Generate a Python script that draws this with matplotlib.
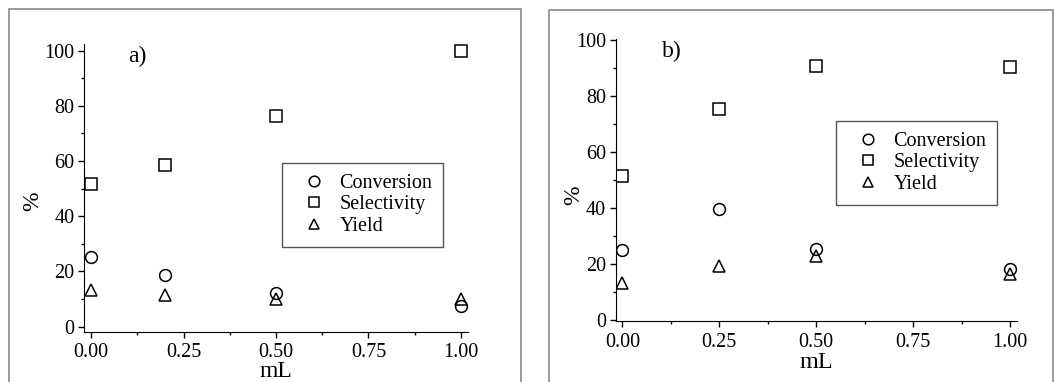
import numpy as np
import matplotlib
matplotlib.use('Agg')
import matplotlib.pyplot as plt
from matplotlib.patches import Rectangle
from matplotlib.ticker import MultipleLocator

plt.rcParams['font.family'] = ['Liberation Serif', 'DejaVu Serif']

# Panel a
x_a = [0.0, 0.2, 0.5, 1.0]
conv_a = [25.1, 18.7, 12.2, 7.3]
sel_a = [51.6, 58.6, 76.4, 100.0]
yield_a = [13.3, 11.3, 9.8, 9.8]

# Panel b
x_b = [0.0, 0.25, 0.5, 1.0]
conv_b = [25.1, 39.9, 25.3, 18.2]
sel_b = [51.6, 75.4, 90.8, 90.3]
yield_b = [13.4, 19.3, 23.1, 16.6]

labels = ['Conversion', 'Selectivity', 'Yield']
markers = ['o', 's', '^']
xticks = [0.0, 0.25, 0.5, 0.75, 1.0]
xticklabels = ['0.00', '0.25', '0.50', '0.75', '1.00']

fig = plt.figure(figsize=(10.54, 3.82), dpi=100)

# grey frames around each panel
fig.patches.append(Rectangle((9/1054, -0.05), (521-9)/1054, 1.05 - 9/382,
                             transform=fig.transFigure, fill=False,
                             edgecolor='#8a8a8a', linewidth=1.2))
fig.patches.append(Rectangle((549/1054, -0.05), (1053-549)/1054, 1.05 - 10/382,
                             transform=fig.transFigure, fill=False,
                             edgecolor='#8a8a8a', linewidth=1.2))

ax1 = fig.add_axes([0.0800, 0.1301, 0.3640, 0.7547])
ax2 = fig.add_axes([0.5842, 0.1605, 0.3805, 0.7374])

panels = [
    (ax1, x_a, [conv_a, sel_a, yield_a], 'a)', (-0.0181, 1.0189), (-2.1, 102.4),
     (0.515, 0.588), (0.115, 0.957), (-0.108, 0.454), 3.5, -0.5, 17),
    (ax2, x_b, [conv_b, sel_b, yield_b], 'b)', (-0.017, 1.017), (-0.1, 100.4),
     (0.549, 0.710), (0.114, 0.955), (-0.079, 0.446), 5, 0, 17.5),
]

for ax, xs, series, tag, xl, yl, leg_pos, tag_pos, ylab_pos, xpad, xlpad, xlsize in panels:
    for ys, m, lab in zip(series, markers, labels):
        ax.plot(xs, ys, linestyle='none', marker=m, markersize=8.5,
                markerfacecolor='none', markeredgecolor='black',
                markeredgewidth=1.1, label=lab)
    ax.set_xlim(*xl)
    ax.set_ylim(*yl)
    ax.spines['top'].set_visible(False)
    ax.spines['right'].set_visible(False)
    ax.set_xticks(xticks)
    ax.set_xticklabels(xticklabels)
    ax.xaxis.set_minor_locator(MultipleLocator(0.125))
    ax.set_yticks([0, 20, 40, 60, 80, 100])
    ax.yaxis.set_minor_locator(MultipleLocator(10))
    ax.tick_params(which='major', direction='out', length=4, width=1, labelsize=14.5)
    ax.tick_params(which='minor', direction='out', length=2.5, width=1)
    ax.tick_params(axis='x', which='major', pad=xpad)
    ax.tick_params(axis='y', which='major', pad=3)
    ax.set_xlabel('mL', fontsize=xlsize, labelpad=xlpad)
    ax.set_ylabel('%', fontsize=17)
    ax.yaxis.set_label_coords(*ylab_pos)
    ax.text(tag_pos[0], tag_pos[1], tag, transform=ax.transAxes, fontsize=17, va='center')
    leg = ax.legend(loc='upper left', bbox_to_anchor=leg_pos, fontsize=14.5,
                    fancybox=False, framealpha=1, edgecolor='#555555',
                    handlelength=2.1, handletextpad=0.2, labelspacing=0.12,
                    borderpad=0.55, borderaxespad=0, markerscale=0.9)
    leg.get_frame().set_linewidth(1.0)

fig.savefig('out.png', dpi=100)
